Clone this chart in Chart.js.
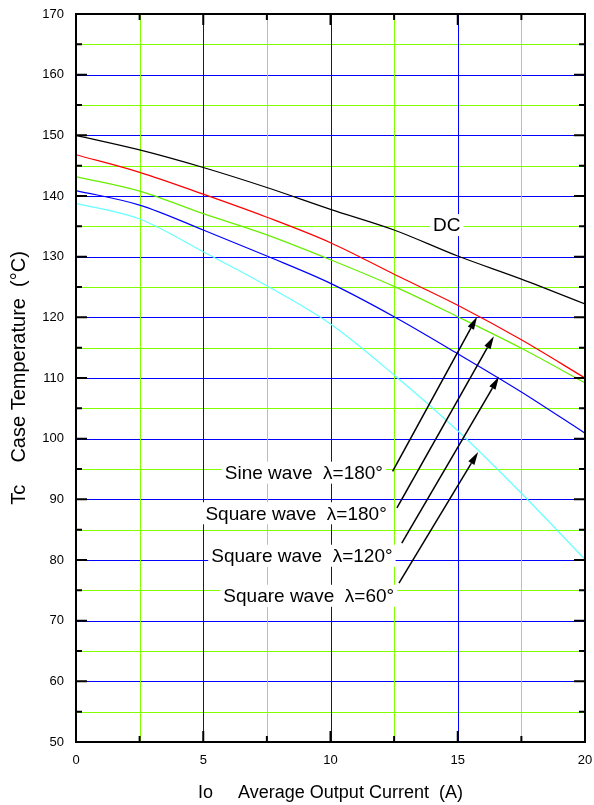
<!DOCTYPE html>
<html>
<head>
<meta charset="utf-8">
<script src="https://cdn.jsdelivr.net/npm/chart.js@4"></script>
<style>
  html, body { margin: 0; padding: 0; background: #fff; }
  #wrap { width: 594px; height: 805px; }
</style>
</head>
<body>
<div id="wrap"><canvas id="tcChart" width="594" height="805"></canvas></div>
<script>
// Io (A) sample points
const currents = [0, 2.5, 5, 7.5, 10, 12.5, 15, 17.5, 20];

// Tc (°C) for each curve
const dcTemp       = [150.0, 147.6, 144.7, 141.4, 137.8, 134.4, 130.1, 126.3, 122.2];
const sine180Temp  = [146.8, 143.9, 140.3, 136.5, 132.3, 127.1, 122.0, 116.3, 110.0];
const sq180Temp    = [143.2, 140.8, 137.1, 133.6, 129.5, 125.1, 120.1, 114.9, 109.2];
const sq120Temp    = [140.9, 138.5, 134.4, 130.1, 125.6, 120.1, 114.0, 107.7, 100.9];
const sq60Temp     = [138.8, 136.2, 130.8, 125.2, 118.9, 110.5, 101.3, 91.0, 80.1];

const curveNames = ['DC', 'Sine wave λ=180°', 'Square wave λ=180°', 'Square wave λ=120°', 'Square wave λ=60°'];

// callout texts and arrows (data coordinates)
const labelTexts = ['Sine wave  λ=180°', 'Square wave  λ=180°', 'Square wave  λ=120°', 'Square wave  λ=60°'];
const labelAnchors = [[12.06, 94.4], [12.21, 87.7], [12.44, 80.7], [12.50, 74.1]];
const arrowFrom = [[12.44, 94.6], [12.61, 88.6], [12.80, 82.8], [12.69, 76.2]];
const arrowTo   = [[15.76, 120.1], [16.42, 116.9], [16.62, 110.2], [15.80, 97.8]];

const BLUE = '#0000ff';
const GREEN = '#80ff00';
const FONT = 'Liberation Sans, Arial, sans-serif';

function points(vals) {
    return currents.map((c, i) => ({ x: c, y: vals[i] }));
}

function drawArrow(ctx, x0, y0, x1, y1) {
    const ang = Math.atan2(y1 - y0, x1 - x0);
    const len = 13, half = 3.5;
    const bx = x1 - len * Math.cos(ang), by = y1 - len * Math.sin(ang);
    ctx.beginPath();
    ctx.moveTo(x0, y0);
    ctx.lineTo(bx, by);
    ctx.stroke();
    ctx.beginPath();
    ctx.moveTo(x1, y1);
    ctx.lineTo(bx + half * Math.sin(ang), by - half * Math.cos(ang));
    ctx.lineTo(bx - half * Math.sin(ang), by + half * Math.cos(ang));
    ctx.closePath();
    ctx.fill();
}

// white-boxed text
function boxText(ctx, text, px, py, align) {
    ctx.font = '19px ' + FONT;
    const w = ctx.measureText(text).width;
    const left = align === 'right' ? px - w : px - w / 2;
    ctx.fillStyle = '#fff';
    ctx.fillRect(left - 3, py - 11, w + 6, 22);
    ctx.fillStyle = '#000';
    ctx.textAlign = 'left';
    ctx.textBaseline = 'middle';
    ctx.fillText(text, left, py + 1);
}

// coloured grid: blue on the labelled values, green in between
const gridLines = {
    id: 'gridLines',
    beforeDatasetsDraw(chart) {
        const { ctx, chartArea: a, scales: { x, y } } = chart;
        ctx.save();
        ctx.lineWidth = 1;
        y.ticks.forEach(t => {
            if (t.value <= 50 || t.value >= 170) return;
            const py = Math.round(y.getPixelForValue(t.value)) + 0.5;
            ctx.strokeStyle = t.value % 10 === 0 ? BLUE : GREEN;
            ctx.beginPath();
            ctx.moveTo(a.left, py); ctx.lineTo(a.right, py);
            ctx.stroke();
        });
        x.ticks.forEach(t => {
            if (t.value <= 0 || t.value >= 20) return;
            const px = Math.round(x.getPixelForValue(t.value)) + 0.5;
            ctx.strokeStyle = t.value % 5 === 0 ? BLUE : GREEN;
            ctx.beginPath();
            ctx.moveTo(px, a.top); ctx.lineTo(px, a.bottom);
            ctx.stroke();
        });
        ctx.restore();
    }
};

const overlay = {
    id: 'overlay',
    afterDatasetsDraw(chart) {
        const { ctx, chartArea: a, scales: { x, y } } = chart;
        ctx.save();

        // frame
        ctx.strokeStyle = '#000';
        ctx.lineWidth = 2;
        ctx.strokeRect(a.left, a.top, a.right - a.left, a.bottom - a.top);

        // inward ticks
        ctx.beginPath();
        for (let v = 50; v <= 170; v += 5) {
            const py = y.getPixelForValue(v);
            const l = v % 10 === 0 ? 11 : 6;
            ctx.moveTo(a.left, py); ctx.lineTo(a.left + l, py);
            ctx.moveTo(a.right, py); ctx.lineTo(a.right - l, py);
        }
        for (let v = 0; v <= 20; v += 2.5) {
            const px = x.getPixelForValue(v);
            const l = v % 5 === 0 ? 11 : 6;
            ctx.moveTo(px, a.bottom); ctx.lineTo(px, a.bottom - l);
            ctx.moveTo(px, a.top); ctx.lineTo(px, a.top + l);
        }
        ctx.stroke();

        // DC label
        boxText(ctx, 'DC', x.getPixelForValue(14.57), y.getPixelForValue(135.2), 'center');

        // callouts
        labelTexts.forEach((t, i) => {
            boxText(ctx, t, x.getPixelForValue(labelAnchors[i][0]), y.getPixelForValue(labelAnchors[i][1]), 'right');
        });

        ctx.strokeStyle = '#000';
        ctx.fillStyle = '#000';
        ctx.lineWidth = 1.5;
        arrowFrom.forEach((f, i) => {
            drawArrow(ctx,
                x.getPixelForValue(f[0]), y.getPixelForValue(f[1]),
                x.getPixelForValue(arrowTo[i][0]), y.getPixelForValue(arrowTo[i][1]));
        });

        ctx.restore();
    }
};

function lineSet(label, vals, color) {
    return {
        label: label,
        data: points(vals),
        borderColor: color,
        borderWidth: 1.2,
        pointRadius: 0,
        fill: false,
        cubicInterpolationMode: 'monotone'
    };
}

document.addEventListener('DOMContentLoaded', function() {
    new Chart(document.getElementById('tcChart'), {
        type: 'line',
        data: {
            datasets: [
                lineSet(curveNames[0], dcTemp, '#000000'),
                lineSet(curveNames[1], sine180Temp, '#ff0000'),
                lineSet(curveNames[2], sq180Temp, '#66ee00'),
                lineSet(curveNames[3], sq120Temp, '#0000ff'),
                lineSet(curveNames[4], sq60Temp, '#66ffff')
            ]
        },
        options: {
            responsive: false,
            animation: false,
            devicePixelRatio: 1,
            layout: { padding: { top: 14, right: 9 } },
            plugins: {
                legend: { display: false },
                tooltip: { enabled: false }
            },
            scales: {
                x: {
                    type: 'linear',
                    min: 0,
                    max: 20,
                    afterFit: s => {
                        s.height = 63;
                        s.paddingLeft = 0;
                        s.paddingRight = 0;
                    },
                    border: { display: false },
                    grid: { display: false, drawTicks: false },
                    ticks: {
                        stepSize: 2.5,
                        autoSkip: false,
                        maxRotation: 0,
                        padding: 11,
                        color: '#000',
                        font: { family: FONT, size: 13 },
                        callback: v => (v % 5 === 0 ? v : '')
                    },
                    title: {
                        display: true,
                        text: 'Io     Average Output Current  (A)',
                        color: '#000',
                        font: { family: FONT, size: 18 },
                        padding: { top: 0, bottom: 1 }
                    }
                },
                y: {
                    min: 50,
                    max: 170,
                    afterFit: s => {
                        s.width = 76;
                        s.paddingTop = 0;
                        s.paddingBottom = 0;
                    },
                    border: { display: false },
                    grid: { display: false, drawTicks: false },
                    ticks: {
                        stepSize: 5,
                        autoSkip: false,
                        padding: 12,
                        color: '#000',
                        font: { family: FONT, size: 13 },
                        callback: v => (v % 10 === 0 ? v : '')
                    },
                    title: {
                        display: true,
                        text: 'Tc    Case Temperature  (°C)',
                        color: '#000',
                        font: { family: FONT, size: 20 },
                        padding: { top: 7, bottom: 0 }
                    }
                }
            }
        },
        plugins: [gridLines, overlay]
    });
});
</script>
</body>
</html>
